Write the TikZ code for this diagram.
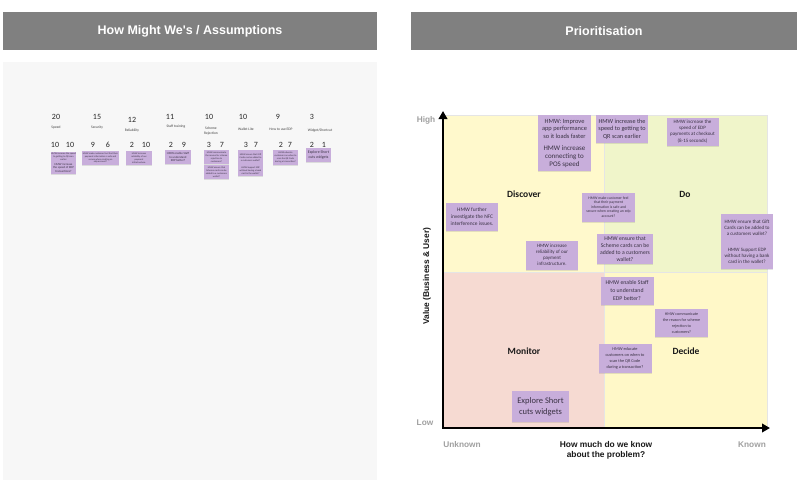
\documentclass[tikz,border=0pt]{standalone}
\usepackage{fontspec}
\setmainfont{Carlito}
\newfontfamily\arialfont{Liberation Sans}
\usetikzlibrary{arrows.meta,shadows}
\definecolor{hdrgray}{HTML}{808080}
\definecolor{panelgray}{HTML}{F7F7F7}
\definecolor{notepurple}{HTML}{C8AEDB}
\definecolor{notetext}{HTML}{3A3244}
\definecolor{discoverfill}{HTML}{FFF9CC}
\definecolor{dofill}{HTML}{F0F5CA}
\definecolor{monitorfill}{HTML}{F6DAD2}
\definecolor{decidefill}{HTML}{FFF8C8}
\definecolor{axisgray}{HTML}{A0A0A0}
\tikzset{
  header/.style={fill=hdrgray, text=white, minimum height=38, inner sep=0pt,
    font=\arialfont\bfseries\fontsize{12.5}{15}\selectfont},
  note/.style={fill=notepurple, text=notetext, align=center, inner sep=0.5pt,
    minimum width=52, minimum height=28,
    drop shadow={shadow xshift=0pt, shadow yshift=-1.2pt, opacity=0.22}},
  smallnote/.style={note, minimum width=25, minimum height=14,
    font=\fontsize{2.4}{2.9}\selectfont},
  quadlbl/.style={font=\bfseries\fontsize{9.5}{11}\selectfont, text=black!90},
  axislbl/.style={text=axisgray, font=\arialfont\bfseries\fontsize{8.3}{10}\selectfont},
  axistitle/.style={align=center, text=black!90, font=\arialfont\bfseries\fontsize{8.4}{10}\selectfont},
  axisline/.style={line width=2.5pt, {Triangle[length=8pt,width=8.5pt]}-{Triangle[length=8pt,width=8.5pt]}},
  countlbl/.style={text=black!85, font=\fontsize{8}{9.6}\selectfont},
  catlbl/.style={text=black!75, align=center, font=\fontsize{3.6}{4.3}\selectfont}
}
\begin{document}
\begin{tikzpicture}[x=1pt,y=-1pt]
  \useasboundingbox (0,0) rectangle (806,480);
  \fill[white] (0,0) rectangle (806,480);
  % headers
  \node[header, minimum width=374] (hdrHow) at (190,31) {How Might We's / Assumptions};
  \node[header, minimum width=386] (hdrPrio) at (604,31) {Prioritisation};
  \fill[panelgray] (3,62) rectangle (377,480);

  % left panel: counts and categories
  \node[countlbl] (cSpeed) at (56,117) {20};
  \node[catlbl] (tSpeed) at (56,128) {Speed};
  \node[countlbl] (cSecurity) at (97,117) {15};
  \node[catlbl] (tSecurity) at (97,128) {Security};
  \node[countlbl] (cReliab) at (132,120) {12};
  \node[catlbl] (tReliab) at (132,131) {Reliability};
  \node[countlbl] (cStaff) at (170,117) {11};
  \node[catlbl] (tStaff) at (176,127) {Staff training};
  \node[countlbl] (cScheme) at (209,117) {10};
  \node[catlbl] (tScheme) at (211,131) {Scheme\\Rejection};
  \node[countlbl] (cWallet) at (243,117) {10};
  \node[catlbl] (tWallet) at (246,129) {Wallet Lite};
  \node[countlbl] (cEdp) at (278,117) {9};
  \node[catlbl] (tEdp) at (281,129) {How to use EDP};
  \node[countlbl] (cWidget) at (312,117) {3};
  \node[catlbl] (tWidget) at (320,131) {Widget/Shortcut};

  \foreach \xa/\xb/\va/\vb [count=\i] in {55/70/10/10, 93/108/9/6, 132/146/2/10, 171/184/2/9,
      209/222/3/7, 246/256/3/7, 281/290/2/7, 312/324/2/1}{
    \node[countlbl] (ca\i) at (\xa,145) {\va};
    \node[countlbl] (cb\i) at (\xb,145) {\vb};
  }

  % left panel: notes
  \node[smallnote, minimum height=10] (lSpeedA) at (63.5,157) {HMW increase the speed\\to getting to QR scan\\earlier};
  \node[smallnote, minimum height=12, font=\fontsize{3}{3.5}\selectfont] (lSpeedB) at (63.5,167.5) {HMW increase\\the speed of EDP\\transactions?};
  \node[smallnote] (lSecurity) at (100.5,158) {HMW make customer feel that their\\payment information is safe and\\secure when creating an\\edp account?};
  \node[smallnote, minimum width=26] (lReliab) at (139,158) {HMW increase\\reliability of our\\payment\\infrastructure.};
  \node[smallnote, minimum width=26, font=\fontsize{3}{3.6}\selectfont] (lStaff) at (178,157) {HMW enable Staff\\to understand\\EDP better?};
  \node[smallnote] (lSchemeA) at (216.5,157) {HMW communicate\\the reason for scheme\\rejection to\\customers?};
  \node[smallnote] (lSchemeB) at (216.5,172) {HMW ensure that\\Scheme cards can be\\added to a customers\\wallet?};
  \node[smallnote, minimum height=15] (lWalletA) at (250.5,157.5) {HMW ensure that Gift\\Cards can be added to\\a customers wallet?};
  \node[smallnote, minimum height=11] (lWalletB) at (250.5,170.5) {HMW Support EDP\\without having a bank\\card in the wallet?};
  \node[smallnote, minimum height=15] (lEdp) at (285.5,157.5) {HMW educate\\customers on when to\\scan the QR Code\\during a transaction?};
  \node[smallnote, font=\fontsize{3.9}{4.8}\selectfont] (lWidget) at (318.5,155) {Explore Short\\cuts widgets};

  % right panel: quadrants
  \fill[discoverfill] (444,115) rectangle (604,272);
  \fill[dofill] (604,115) rectangle (767,272);
  \fill[monitorfill] (444,272) rectangle (604,428);
  \fill[decidefill] (604,272) rectangle (767,428);
  \draw[black!10, line width=0.4pt] (604,115) -- (604,428) (444,272) -- (767,272) (444,115) -- (767,115) -- (767,428);

  \coordinate (yTop) at (443,111);
  \coordinate (origin) at (443,428);
  \coordinate (xEnd) at (770,428);
  \draw[axisline] (yTop) -- (origin) -- (xEnd);

  \node[quadlbl] (qDiscover) at (524,194) {Discover};
  \node[quadlbl] (qDo) at (685,194) {Do};
  \node[quadlbl] (qMonitor) at (524,351) {Monitor};
  \node[quadlbl] (qDecide) at (686,351) {Decide};

  \node[axislbl] (aHigh) at (426,120) {High};
  \node[axislbl] (aLow) at (425,423) {Low};
  \node[axislbl] (aUnknown) at (462,445) {Unknown};
  \node[axislbl] (aKnown) at (752,445) {Known};
  \node[axistitle] (aKnow) at (606,450) {How much do we know\\about the problem?};
  \node[axistitle, rotate=90] (aValue) at (427,276) {Value (Business \& User)};

  % right panel: notes
  \node[note, minimum width=53, minimum height=27, font=\fontsize{6.4}{7.5}\selectfont] (rApp) at (564.5,128.5) {HMW: Improve\\app performance\\so it loads faster};
  \node[note, minimum width=53, minimum height=29, font=\fontsize{7}{8.3}\selectfont] (rPos) at (564.5,156.5) {HMW increase\\connecting to\\POS speed};
  \node[note, font=\fontsize{6.2}{7.4}\selectfont] (rQr) at (622,129) {HMW increase the\\speed to getting to\\QR scan earlier};
  \node[note, font=\fontsize{5}{6.2}\selectfont] (rCheckout) at (692.5,131.5) {HMW increase the\\speed of EDP\\payments at checkout\\(8-15 seconds)};
  \node[note, minimum width=53, minimum height=29, font=\fontsize{3.8}{4.4}\selectfont] (rSafe) at (608.5,207) {HMW make customer feel\\that their payment\\information is safe and\\secure when creating an edp\\account?};
  \node[note, font=\fontsize{5.4}{7}\selectfont] (rNfc) at (472,217) {HMW further\\investigate the NFC\\interference issues.};
  \node[note, minimum height=29, font=\fontsize{5}{5.9}\selectfont] (rReliab) at (552,255) {HMW increase\\reliability of our\\payment\\infrastructure.};
  \node[note, minimum width=56, minimum height=30, font=\fontsize{5.7}{6.9}\selectfont] (rScheme) at (625,249) {HMW ensure that\\Scheme cards can be\\added to a customers\\wallet?};
  \node[note, font=\fontsize{5}{5.9}\selectfont] (rGift) at (747,228) {HMW ensure that Gift\\Cards can be added to\\a customers wallet?};
  \node[note, minimum height=27, font=\fontsize{5}{5.9}\selectfont] (rBank) at (747,255.5) {HMW Support EDP\\without having a bank\\card in the wallet?};
  \node[note, minimum width=53, font=\fontsize{5.8}{7.6}\selectfont] (rStaff) at (627,290.5) {HMW enable Staff\\to understand\\EDP better?};
  \node[note, minimum width=53, font=\fontsize{4.1}{6}\selectfont] (rReason) at (681.5,323) {HMW communicate\\the reason for scheme\\rejection to\\customers?};
  \node[note, minimum width=53, minimum height=29, font=\fontsize{4.3}{6.2}\selectfont] (rEducate) at (625,358.5) {HMW educate\\customers on when to\\scan the QR Code\\during a transaction?};
  \node[note, minimum width=57, minimum height=31, font=\fontsize{8.5}{11}\selectfont] (rWidget) at (540.5,406.5) {Explore Short\\cuts widgets};
\end{tikzpicture}
\end{document}
